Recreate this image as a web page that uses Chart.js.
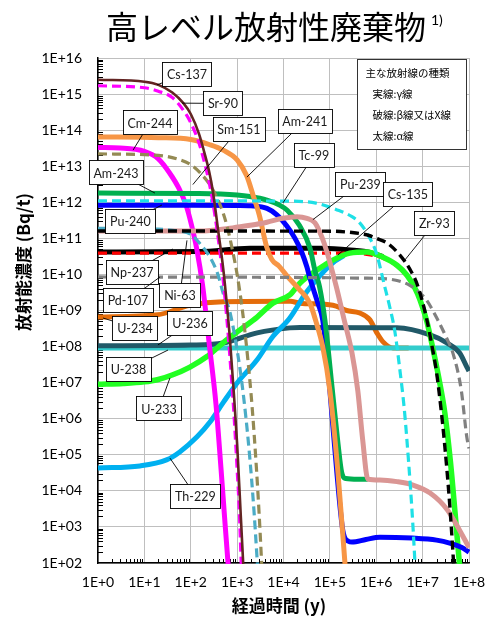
<!DOCTYPE html>
<html lang="ja">
<head>
<meta charset="utf-8">
<title>高レベル放射性廃棄物</title>
<script src="https://cdn.jsdelivr.net/npm/chart.js@4.4.1/dist/chart.umd.min.js"></script>
<style>
    html, body { margin: 0; padding: 0; background: #ffffff; }
    #chart_hlw { display: block; }
</style>
</head>
<body>
<canvas id="chart_hlw" width="487" height="617"></canvas>
<script>
//----------------------------------------------------------------------------------------------------------------------------
// axis decades and their labels
//----------------------------------------------------------------------------------------------------------------------------
var xDecades = [1, 1e1, 1e2, 1e3, 1e4, 1e5, 1e6, 1e7, 1e8];
var xTickLabels = ["1E+0", "1E+1", "1E+2", "1E+3", "1E+4", "1E+5", "1E+6", "1E+7", "1E+8"];
var yDecades = [1e2, 1e3, 1e4, 1e5, 1e6, 1e7, 1e8, 1e9, 1e10, 1e11, 1e12, 1e13, 1e14, 1e15, 1e16];
var yTickLabels = ["1E+02", "1E+03", "1E+04", "1E+05", "1E+06", "1E+07", "1E+08", "1E+09",
                   "1E+10", "1E+11", "1E+12", "1E+13", "1E+14", "1E+15", "1E+16"];

//----------------------------------------------------------------------------------------------------------------------------
// activity per nuclide, [elapsed years, Bq/t]
//----------------------------------------------------------------------------------------------------------------------------
var cs137 = [[1, 2.5e15], [10, 2.2e15], [20, 1.8e15], [40, 1.1e15], [70, 5.5e14], [100, 2.8e14], [150, 8e13],
             [200, 2.2e13], [250, 7e12], [300, 2e12], [400, 1.3e11], [500, 1.5e10], [600, 1.5e9], [700, 1.6e8],
             [850, 5e6], [1000, 2e5], [1200, 2e3], [1400, 4e1]];
var sr90 = [[1, 1.7e15], [10, 1.5e15], [20, 1.2e15], [40, 8e14], [70, 3.5e14], [100, 1.6e14], [150, 4.5e13],
            [200, 1.2e13], [250, 3.5e12], [300, 1e12], [400, 8e10], [500, 7e9], [600, 6e8], [700, 5e7],
            [850, 1.5e6], [1000, 4e4], [1100, 4e3], [1250, 5e1]];
var cm244 = [[1, 3.3e13], [3, 3.2e13], [10, 2.6e13], [20, 1.6e13], [35, 6.5e12], [55, 2.5e12], [80, 8e11],
             [105, 2.2e11], [135, 5e10], [180, 5e9], [250, 1.2e8], [350, 2.5e6], [450, 4e4], [550, 1.2e3], [700, 2e1]];
var sm151 = [[1, 2.2e13], [20, 2.0e13], [50, 1.6e13], [100, 1.1e13], [160, 6.5e12], [260, 3e12], [430, 8.5e11],
             [600, 2.3e11], [800, 4.5e10], [1000, 1e10], [1300, 1e9], [1700, 4.5e7], [2100, 2.2e6], [2600, 4.5e4],
             [3000, 2e3], [3500, 4e1]];
var am241 = [[1, 6.5e13], [20, 6.2e13], [100, 5.5e13], [250, 4e13], [500, 2.8e13], [1000, 1.5e13], [1600, 5.5e12],
             [2200, 1.6e12], [3000, 4.5e11], [4300, 6e10], [5600, 2.6e10], [8000, 1.7e10], [12000, 9e9],
             [22000, 3.8e9], [37000, 1.6e9], [50000, 5e8], [70000, 1e8], [100000, 6e6], [150000, 3e4], [220000, 5e1]];
var am243 = [[1, 1.8e12], [150, 1.75e12], [1000, 1.6e12], [1900, 1.45e12], [4400, 1.15e12], [8000, 8.5e11],
             [12000, 6e11], [22000, 2.3e11], [37000, 5.5e10], [47500, 1.3e10], [60000, 4.5e9], [78000, 5.5e8],
             [112000, 7e6], [150000, 2e5], [180000, 3.2e4], [220000, 2.2e4], [400000, 2.1e4], [660000, 2.1e4]];
var tc99 = [[1, 1.1e12], [10000, 1.08e12], [50000, 9.5e11], [150000, 6e11], [300000, 4e11], [450000, 2.6e11],
            [650000, 1.3e11], [1000000, 4e10], [1500000, 5e9], [2000000, 1.1e9], [2500000, 2.8e8],
            [3200000, 2.5e7], [4000000, 2e6], [5000000, 6e4], [6000000, 2e3], [7200000, 3e1]];
var pu240 = [[1, 8.3e11], [100, 8.3e11], [1000, 8.2e11], [2000, 8e11], [4400, 6.8e11], [7200, 4.5e11],
             [11800, 2.2e11], [17700, 1e11], [25000, 4e10], [32000, 1.6e10], [37000, 8e9], [55000, 1.6e9],
             [70000, 5.5e8], [85000, 6e7], [100000, 6e6], [142000, 3e4], [190000, 8e2], [250000, 4e2],
             [300000, 3.8e2], [600000, 4.5e2], [1200000, 5.2e2], [6000000, 4.9e2], [20000000, 4.3e2],
             [40000000, 3.5e2], [70000000, 2.7e2], [100000000, 2e2]];
var pu239 = [[1, 1.6e11], [150, 1.6e11], [800, 1.95e11], [1900, 2.3e11], [4400, 2.8e11], [9600, 3.6e11],
             [19500, 4e11], [32000, 3.6e11], [47500, 2.7e11], [67000, 1.1e11], [85000, 4.5e10], [138000, 4.5e9],
             [200000, 6e8], [300000, 6.6e7], [400000, 6e6], [510000, 2.6e5], [660000, 2.1e4], [1200000, 2e4],
             [2800000, 1.8e4], [6200000, 1.45e4], [14500000, 8.7e3], [34000000, 3e3], [63000000, 8e2],
             [100000000, 2.7e2]];
var ni63 = [[1, 1.9e11], [20, 1.8e11], [53, 1.6e11], [100, 1.3e11], [160, 7e10], [260, 3e10], [385, 1e10],
            [500, 3e9], [700, 9e8], [1000, 8e7], [1330, 6e6], [1800, 1.5e5], [2300, 3e3], [2800, 6e1]];
var zr93 = [[1, 1.6e11], [100000, 1.58e11], [300000, 1.45e11], [700000, 1.2e11], [1000000, 1e11],
            [1700000, 7.5e10], [3200000, 3.5e10], [5300000, 1.4e10], [8000000, 4.5e9], [12000000, 6.5e8],
            [16000000, 1e8], [20000000, 1.9e7], [25000000, 1.8e6], [30000000, 1.8e5], [38000000, 5e3],
            [45000000, 2e2], [48000000, 5e1]];
var cs135 = [[1, 3.9e10], [300000, 3.9e10], [630000, 3.6e10], [1400000, 2.8e10], [2800000, 1.7e10],
             [4600000, 9e9]];
var np237 = [[1, 4.2e10], [150, 4.3e10], [1900, 5.3e10], [70000, 5.3e10], [380000, 4.6e10], [630000, 4.3e10],
             [1400000, 3.1e10]];
var pd107 = [[1, 8.5e9], [1000000, 7.8e9], [2800000, 6.8e9], [5300000, 5e9], [8000000, 3.4e9],
             [12300000, 1.9e9], [22000000, 5e8], [33000000, 1.7e8], [45000000, 6.6e7], [68000000, 6.3e6],
             [90000000, 3e5], [100000000, 1.5e5]];
var u233 = [[1, 9e6], [3.5, 9.5e6], [10, 1.05e7], [19, 1.2e7], [41, 1.65e7], [96, 2.7e7], [220, 5.2e7],
            [490, 1.25e8], [1150, 2.9e8], [2700, 6.6e8], [5900, 1.6e9], [13700, 2.7e9], [22500, 5.7e9],
            [52000, 1.3e10], [116000, 2.5e10], [270000, 3.9e10], [630000, 4.2e10], [1400000, 3e10],
            [2800000, 1.8e10], [4600000, 9.5e9], [6800000, 4.2e9], [8800000, 1.95e9], [12300000, 5e8],
            [16600000, 9e7], [22000000, 1.5e7], [30000000, 1.5e6], [40000000, 6e4], [50000000, 2.5e3],
            [62000000, 1e2], [70000000, 2e1]];
var th229 = [[1, 4.3e4], [8, 4.9e4], [30, 7.2e4], [58, 1.2e5], [135, 3.1e5], [260, 8.1e5], [500, 2.8e6],
             [1000, 9.8e6], [2700, 4.3e7], [5900, 1.9e8], [13700, 6.2e8], [30000, 3e9], [60000, 9e9],
             [116000, 2.1e10], [200000, 3.3e10]];
var u234 = [[1, 6.6e8], [19, 7.6e8], [96, 1.4e9], [500, 1.75e9], [14000, 1.8e9], [22500, 1.6e9],
            [116000, 1.4e9], [230000, 1e9], [440000, 8.5e8], [730000, 5.5e8], [1030000, 2.4e8],
            [1400000, 1.35e8], [2300000, 9.2e7], [5000000, 9.1e7]];
var u236 = [[1, 1.05e8], [100, 1.1e8], [500, 1.25e8], [2700, 2.4e8], [13700, 3.3e8], [22500, 3.4e8],
            [2800000, 3.3e8], [14500000, 2.1e8], [34000000, 1.25e8], [63000000, 6.6e7], [90000000, 2.7e7],
            [100000000, 2.1e7]];
var u238 = [[1, 9.1e7], [10000, 9.1e7], [100000000, 9.1e7]];

//----------------------------------------------------------------------------------------------------------------------------
// line styles -- thin solid = gamma, dashed = beta / X, thick = alpha
// first entry is drawn on top
//----------------------------------------------------------------------------------------------------------------------------
var DASH = [9, 5];
var series = [
    { name: "Cs-137", data: cs137, color: "#632523", width: 2.6 },
    { name: "Sr-90",  data: sr90,  color: "#ff00ff", width: 3.2, dash: DASH },
    { name: "Zr-93",  data: zr93,  color: "#000000", width: 3.4, dash: DASH },
    { name: "Tc-99",  data: tc99,  color: "#1ee0e6", width: 3.2, dash: DASH },
    { name: "Sm-151", data: sm151, color: "#948a54", width: 3.2, dash: DASH },
    { name: "Ni-63",  data: ni63,  color: "#4bacc6", width: 3.2, dash: DASH },
    { name: "Pd-107", data: pd107, color: "#808080", width: 3.2, dash: DASH },
    { name: "Pu-239", data: pu239, color: "#da9694", width: 5 },
    { name: "Am-241", data: am241, color: "#f79646", width: 5 },
    { name: "Am-243", data: am243, color: "#00b050", width: 5 },
    { name: "Pu-240", data: pu240, color: "#0000ff", width: 5 },
    { name: "Cm-244", data: cm244, color: "#ff00ff", width: 5 },
    { name: "U-233",  data: u233,  color: "#22ff22", width: 5.5 },
    { name: "Cs-135", data: cs135, color: "#ff0000", width: 3.2, dash: DASH },
    { name: "Np-237", data: np237, color: "#000000", width: 5 },
    { name: "Th-229", data: th229, color: "#00b0f0", width: 5 },
    { name: "U-236",  data: u236,  color: "#215968", width: 5 },
    { name: "U-238",  data: u238,  color: "#33cccc", width: 5 },
    { name: "U-234",  data: u234,  color: "#e46c0a", width: 5 }
];

// name boxes: box centre and leader end, both [years, Bq/t]
var nuclideLabels = [
    { text: "Cs-137", box: [83, 3.7e15],     tip: [18.7, 1.8e15] },
    { text: "Sr-90",  box: [494, 5.5e14],    tip: [65, 5.6e14] },
    { text: "Cm-244", box: [13.2, 1.63e14],  tip: [5.7, 2.8e13] },
    { text: "Am-243", box: [2.44, 6.7e12],   tip: [16.9, 1.8e12] },
    { text: "Pu-240", box: [5.0, 3.0e11],    tip: [23.9, 8.4e11] },
    { text: "Sm-151", box: [1093, 1.08e14],  tip: [111, 3.1e12] },
    { text: "Am-241", box: [28900, 1.85e14], tip: [1626, 5.0e12] },
    { text: "Tc-99",  box: [45200, 2.0e13],  tip: [9710, 9.6e11] },
    { text: "Pu-239", box: [454000, 3.3e12], tip: [43000, 3.3e11] },
    { text: "Cs-135", box: [4.8e6, 1.7e12],  tip: [148600, 3.45e10] },
    { text: "Zr-93",  box: [1.79e7, 2.6e11], tip: [4.13e6, 2.5e10] },
    { text: "Np-237", box: [5.4, 1.17e10],   tip: [41.3, 5.07e10] },
    { text: "Pd-107", box: [4.43, 1.9e9],    tip: [21.7, 8.5e9] },
    { text: "Ni-63",  box: [58.5, 2.7e9],    tip: [82.8, 8.8e10] },
    { text: "U-234",  box: [6.27, 3.27e8],   tip: [1.28, 6.2e8] },
    { text: "U-236",  box: [96, 4.5e8],      tip: [19.6, 1.11e8] },
    { text: "U-238",  box: [4.54, 2.32e7],   tip: [32.3, 8.0e7] },
    { text: "U-233",  box: [20.6, 1.92e6],   tip: [35.6, 1.35e7] },
    { text: "Th-229", box: [126, 7.4e3],     tip: [35.6, 8.1e4] }
];

var legendLines = ["主な放射線の種類", "実線:γ線", "破線:β線又はX線", "太線:α線"];

var JP_FONT = "'Noto Sans CJK JP', sans-serif";
var NUM_FONT = "Lato, 'Liberation Sans', sans-serif";

function ExceptionHandler(e) {
    console.log("chart error :: " + e.name + " :: " + e.message);
}

//----------------------------------------------------------------------------------------------------------------------------
// minor ticks, name boxes, legend box and titles
//----------------------------------------------------------------------------------------------------------------------------
var decorPlugin = {
    id: "decor",
    beforeDatasetsDraw: function (chart) {
        var ctx = chart.ctx, area = chart.chartArea;
        var xs = chart.scales.x, ys = chart.scales.y;
        var i, m, p;
        ctx.save();
        ctx.strokeStyle = "#000000";
        ctx.lineWidth = 1;
        ctx.beginPath();
        for (i = 0; i < xDecades.length - 1; i++) {
            for (m = 2; m <= 9; m++) {
                p = Math.round(xs.getPixelForValue(m * xDecades[i])) + 0.5;
                ctx.moveTo(p, area.bottom);
                ctx.lineTo(p, area.bottom - 4);
            }
        }
        for (i = 0; i < yDecades.length - 1; i++) {
            for (m = 2; m <= 9; m++) {
                p = Math.round(ys.getPixelForValue(m * yDecades[i])) + 0.5;
                ctx.moveTo(area.left, p);
                ctx.lineTo(area.left + 5, p);
            }
        }
        ctx.stroke();
        ctx.restore();
    },
    afterDatasetsDraw: function (chart) {
        var ctx = chart.ctx;
        var xs = chart.scales.x, ys = chart.scales.y;
        ctx.save();
        ctx.font = "12.5px " + NUM_FONT;
        ctx.textAlign = "center";
        ctx.textBaseline = "middle";
        nuclideLabels.forEach(function (a) {
            var cx = xs.getPixelForValue(a.box[0]), cy = ys.getPixelForValue(a.box[1]);
            var tx = xs.getPixelForValue(a.tip[0]), ty = ys.getPixelForValue(a.tip[1]);
            ctx.strokeStyle = "#000000";
            ctx.lineWidth = 0.9;
            ctx.beginPath();
            ctx.moveTo(tx, ty);
            ctx.lineTo(cx, cy);
            ctx.stroke();
            var w = Math.round(ctx.measureText(a.text).width + 9), h = 24;
            var bx = Math.round(cx - w / 2) + 0.5, by = Math.round(cy - h / 2) + 0.5;
            ctx.fillStyle = "#ffffff";
            ctx.fillRect(bx, by, w, h);
            ctx.strokeRect(bx, by, w, h);
            ctx.fillStyle = "#1a1a1a";
            ctx.fillText(a.text, cx, cy + 1);
        });

        // legend box in the top right corner of the plot
        var area = chart.chartArea;
        var lx = Math.round(area.right - 112) + 0.5, ly = Math.round(area.top + 1) + 0.5;
        ctx.fillStyle = "#ffffff";
        ctx.fillRect(lx, ly, 109, 90);
        ctx.strokeStyle = "#333333";
        ctx.lineWidth = 1;
        ctx.strokeRect(lx, ly, 109, 90);
        ctx.fillStyle = "#000000";
        ctx.textAlign = "left";
        ctx.font = "10.5px " + JP_FONT;
        legendLines.forEach(function (s, i) {
            ctx.fillText(s, lx + (i === 0 ? 8 : 15), ly + 14 + i * 21);
        });
        ctx.restore();
    },
    afterDraw: function (chart) {
        var ctx = chart.ctx;
        ctx.save();
        ctx.fillStyle = "#000000";
        ctx.textBaseline = "middle";
        ctx.textAlign = "center";
        ctx.font = "32px " + JP_FONT;
        ctx.fillText("高レベル放射性廃棄物", 266, 27);
        ctx.textAlign = "left";
        ctx.font = "14px " + NUM_FONT;
        ctx.fillText("1)", 431, 20);

        ctx.textAlign = "center";
        ctx.font = "bold 17px " + JP_FONT;
        ctx.fillText("経過時間 (y)", 279, 606);

        ctx.translate(24, 262);
        ctx.rotate(-Math.PI / 2);
        ctx.fillText("放射能濃度 (Bq/t)", 0, 0);
        ctx.restore();
    }
};

function DrawDecayChart() {
    try {
        var datasets = series.map(function (s) {
            return {
                label: s.name,
                data: s.data.map(function (p) { return { x: p[0], y: p[1] }; }),
                showLine: true,
                borderColor: s.color,
                backgroundColor: s.color,
                borderWidth: s.width,
                borderDash: s.dash || [],
                pointRadius: 0,
                pointHoverRadius: 0,
                fill: false,
                cubicInterpolationMode: "monotone",
                clip: 1
            };
        });

        new Chart(document.getElementById("chart_hlw"), {
            type: "scatter",
            data: { datasets: datasets },
            options: {
                responsive: false,
                animation: false,
                layout: { padding: { top: 58, right: 18, bottom: 0, left: 0 } },
                plugins: {
                    legend: { display: false },
                    tooltip: { enabled: false },
                    title: { display: false }
                },
                scales: {
                    x: {
                        type: "logarithmic",
                        min: 1,
                        max: 1e8,
                        afterBuildTicks: function (scale) {
                            scale.ticks = xDecades.map(function (v) { return { value: v }; });
                        },
                        // fixed band under the plot; label overhang is covered by the layout padding
                        afterFit: function (scale) {
                            scale.height = 54;
                            scale.paddingLeft = 0;
                            scale.paddingRight = 0;
                        },
                        ticks: {
                            autoSkip: false,
                            maxRotation: 0,
                            padding: 11,
                            color: "#000000",
                            font: { family: NUM_FONT, size: 14 },
                            callback: function (v, i) { return xTickLabels[i]; }
                        },
                        grid: { color: "#bfbfbf", lineWidth: 1, drawTicks: false },
                        border: { color: "#000000", width: 1.5 }
                    },
                    y: {
                        type: "logarithmic",
                        min: 1e2,
                        max: 1e16,
                        afterBuildTicks: function (scale) {
                            scale.ticks = yDecades.map(function (v) { return { value: v }; });
                        },
                        afterFit: function (scale) {
                            scale.width = 98;
                            scale.paddingTop = 0;
                            scale.paddingBottom = 0;
                        },
                        ticks: {
                            autoSkip: false,
                            padding: 16,
                            color: "#000000",
                            font: { family: NUM_FONT, size: 14 },
                            callback: function (v, i) { return yTickLabels[i]; }
                        },
                        grid: { color: "#bfbfbf", lineWidth: 1, drawTicks: false },
                        border: { color: "#000000", width: 1.5 }
                    }
                }
            },
            plugins: [decorPlugin]
        });
    }
    catch (e) {
        ExceptionHandler(e);
    }
}

DrawDecayChart();
</script>
</body>
</html>
